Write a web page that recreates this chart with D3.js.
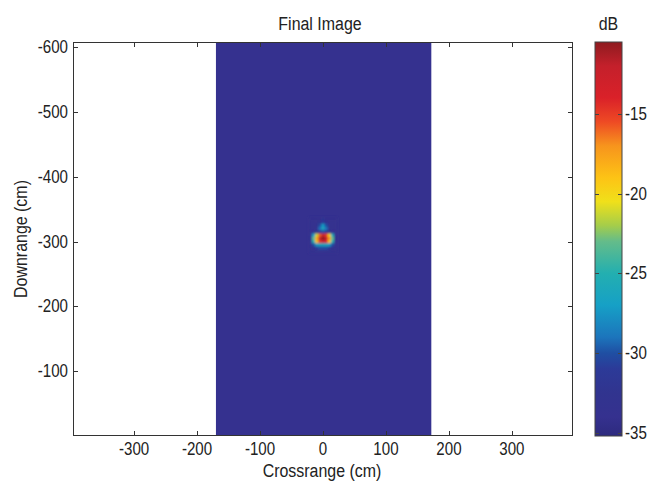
<!DOCTYPE html>
<html>
<head>
<meta charset="utf-8">
<script src="https://cdn.jsdelivr.net/npm/d3@7"></script>
<style>
  body { margin: 0; background: #fff; }
  text { font-family: 'Liberation Sans', Arial, sans-serif; fill: #222; }
</style>
</head>
<body>
<svg id="chart" width="648" height="481"></svg>
<script>
// axis ticks
var xTicks = [-300, -200, -100, 0, 100, 200, 300];
var yTicks = [-600, -500, -400, -300, -200, -100];
var cbTicks = [-15, -20, -25, -30, -35];

// imaged swath (cm) and its floor level (dB)
var swathX = [-170, 172];
var floorDb = -34;

// point target response around (0, -305), dB on a 5 cm grid
var spotCols = [-20, -15, -10, -5, 0, 5, 10, 15, 20];
var spotRows = [-335, -330, -325, -320, -315, -310, -305, -300, -295, -290, -285];
var spotDb = [
  [-34, -34, -34, -34, -32, -34, -34, -34, -34],
  [-34, -34, -34, -33, -31, -33, -34, -34, -34],
  [-34, -34, -34, -30, -27, -30, -34, -34, -34],
  [-34, -34, -34, -29, -26, -29, -34, -34, -34],
  [-34, -34, -32, -31, -30, -31, -32, -34, -34],
  [-34, -27, -21, -16, -13, -15, -20, -26, -34],
  [-33, -23, -18, -13, -10.5, -12, -17, -23, -33],
  [-34, -25, -19, -15, -13, -14, -19, -25, -34],
  [-34, -30, -27, -26, -26, -26, -27, -30, -34],
  [-34, -33, -31, -30, -30, -30, -31, -33, -34],
  [-34, -34, -34, -34, -34, -34, -34, -34, -34]
];

// colormap
var cmapDb = [-35.2, -34, -32.5, -31, -30, -29, -27, -25, -23, -22, -20.5, -19, -17, -15.5, -14, -12, -10.5];
var cmapColors = ["#2d2a7e", "#35318f", "#31348f", "#2c3a98", "#1f4fa3", "#1c75bc", "#16a0c6", "#23afb0", "#64bc8a",
                  "#a5cd4a", "#f0e01a", "#fdc315", "#f7941d", "#ee4a24", "#da2129", "#c4202b", "#8e1b1f"];

var svg = d3.select("#chart");

var plotL = 73, plotR = 573, plotT = 42, plotB = 436;
var cbL = 595, cbR = 622;

var x = d3.scaleLinear().domain([-397, 397]).range([plotL, plotR]);
var y = d3.scaleLinear().domain([0, -608]).range([plotB, plotT]);
var color = d3.scaleLinear().domain(cmapDb).range(cmapColors).clamp(true);
var cy = d3.scaleLinear().domain([-35.2, -10.5]).range([plotB, plotT]);

// narrow text like the original figure font
function label(px, py, str, size, anchor, rot) {
  return svg.append("text")
      .attr("transform", "translate(" + px + "," + py + ")" + (rot ? " rotate(" + rot + ")" : "") + " scale(0.84,1)")
      .attr("text-anchor", anchor || "middle")
      .attr("font-size", size)
      .text(str);
}

var defs = svg.append("defs");
defs.append("filter").attr("id", "soft")
    .attr("filterUnits", "userSpaceOnUse")
    .attr("x", plotL).attr("y", plotT).attr("width", plotR - plotL).attr("height", plotB - plotT)
  .append("feGaussianBlur").attr("stdDeviation", 0.9);

var grad = defs.append("linearGradient").attr("id", "cbar")
    .attr("x1", 0).attr("y1", 1).attr("x2", 0).attr("y2", 0);
grad.selectAll("stop")
    .data(cmapDb)
  .enter().append("stop")
    .attr("offset", function(d) { return (cy(d) - plotB) / (plotT - plotB); })
    .attr("stop-color", function(d) { return color(d); });

/* swath floor */
svg.append("rect")
    .attr("x", x(swathX[0]))
    .attr("y", y(-608))
    .attr("width", x(swathX[1]) - x(swathX[0]))
    .attr("height", y(0) - y(-608))
    .attr("fill", color(floorDb));

/* target response cells */
var cells = [];
spotRows.forEach(function(r, i) {
  spotCols.forEach(function(c, j) {
    cells.push({ cx: c, cy: r, v: spotDb[i][j] });
  });
});
var cw = Math.abs(x(5) - x(0)), ch = Math.abs(y(-5) - y(0));
var spot = svg.append("g")
    .attr("class", "spot")
    .attr("filter", "url(#soft)");
spot.selectAll("rect")
    .data(cells)
  .enter().append("rect")
    .attr("x", function(d) { return x(d.cx) - cw / 2; })
    .attr("y", function(d) { return y(d.cy) - ch / 2; })
    .attr("width", cw + 0.3)
    .attr("height", ch + 0.3)
    .attr("fill", function(d) { return color(d.v); });

/* axes box with inward ticks */
var tickLen = 5;
var ax = svg.append("g").attr("stroke", "#333").attr("stroke-width", 1).attr("fill", "none");
ax.append("rect").attr("x", plotL + 0.5).attr("y", plotT + 0.5)
    .attr("width", plotR - plotL - 1).attr("height", plotB - plotT - 1);

ax.selectAll(".xt").data(xTicks).enter().append("path")
    .attr("d", function(d) {
      var px = Math.round(x(d)) + 0.5;
      return "M" + px + "," + plotB + "v" + (-tickLen) + "M" + px + "," + plotT + "v" + tickLen;
    });
ax.selectAll(".yt").data(yTicks).enter().append("path")
    .attr("d", function(d) {
      var py = Math.round(y(d)) + 0.5;
      return "M" + plotL + "," + py + "h" + tickLen + "M" + plotR + "," + py + "h" + (-tickLen);
    });

xTicks.forEach(function(d) { label(x(d), 455, d, 18); });
yTicks.forEach(function(d) { label(68, y(d) + 6, d, 18, "end"); });

/* colorbar */
svg.append("rect")
    .attr("x", cbL).attr("y", plotT)
    .attr("width", cbR - cbL).attr("height", plotB - plotT)
    .attr("fill", "url(#cbar)")
    .attr("stroke", "#444").attr("stroke-width", 1);

var cb = svg.append("g").attr("stroke", "#444").attr("fill", "none");
cb.selectAll("path").data(cbTicks).enter().append("path")
    .attr("d", function(d) {
      var py = Math.round(cy(d)) + 0.5;
      return "M" + cbL + "," + py + "h4M" + cbR + "," + py + "h-4";
    });

cbTicks.forEach(function(d) { label(cbR + 3, cy(d) + 6, d, 18, "start"); });

/* titles */
label(320, 30, "Final Image", 19);
label((cbL + cbR) / 2, 30, "dB", 19);
label(322, 477, "Crossrange (cm)", 19);
label(27, (plotT + plotB) / 2, "Downrange (cm)", 19, "middle", -90);
</script>
</body>
</html>
